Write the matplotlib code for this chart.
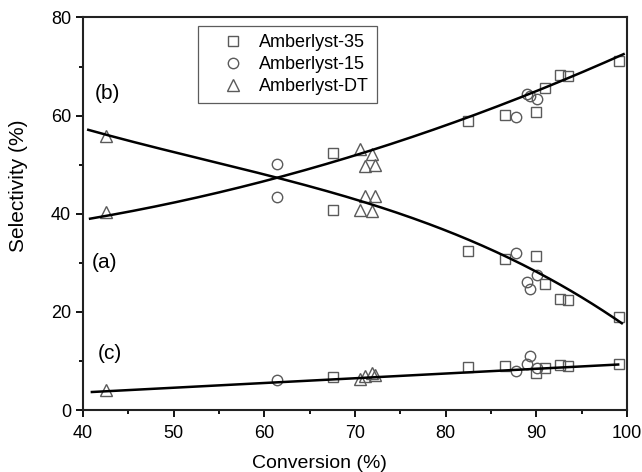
import numpy as np
import matplotlib.pyplot as plt
from matplotlib.ticker import MultipleLocator

plt.rcParams['font.family'] = ['Liberation Sans', 'DejaVu Sans']

# --- Measured selectivities: (a), (b) and (c) products per catalyst ---
a35_conv = [67.6, 82.4, 86.5, 89.9, 90.9, 92.6, 93.5, 99.1]
a35_sel_a = [40.7, 32.4, 30.8, 31.5, 25.7, 22.7, 22.5, 19.0]
a35_sel_b = [52.4, 58.9, 60.1, 60.8, 65.6, 68.3, 68.1, 71.1]
a35_sel_c = [6.8, 8.7, 8.9, 7.6, 8.5, 9.1, 8.9, 9.5]

a15_conv = [61.4, 87.7, 89.0, 89.3, 90.1]
a15_sel_a = [43.5, 32.0, 26.1, 24.7, 27.6]
a15_sel_b = [50.1, 59.8, 64.5, 64.0, 63.4]
a15_sel_c = [6.1, 8.0, 9.5, 11.0, 8.6]

adt_conv = [42.5, 70.6, 71.1, 71.9, 72.2]
adt_sel_a = [55.8, 40.8, 43.7, 40.5, 43.7]
adt_sel_b = [40.3, 53.2, 49.8, 52.2, 49.9]
adt_sel_c = [4.2, 6.4, 6.9, 7.6, 7.2]

# Trend curves
trend_a_x = [40.6, 61.4, 70.6, 81.6, 87.1, 90.05, 94.1, 99.4]
trend_a = [57.1, 47.4, 42.7, 34.9, 31.2, 28.5, 23.7, 17.7]
trend_b_x = [40.8, 61.4, 70.6, 82.5, 89.0, 99.6]
trend_b = [39.0, 47.4, 52.2, 59.6, 64.4, 72.5]
trend_c_x = [41, 99]
trend_c = [3.7, 9.3]

fig = plt.figure(figsize=(6.42, 4.72), dpi=100)
ax = fig.add_axes([0.129, 0.131, 0.848, 0.832])

mk = dict(linestyle='none', markerfacecolor='none', markeredgecolor='#5a5a5a',
          markeredgewidth=1.0, markersize=7.5)
mk_tri = {**mk, 'markersize': 8.5}

for sel in (a35_sel_a, a35_sel_b, a35_sel_c):
    ax.plot(a35_conv, sel, marker='s', **mk)
for sel in (a15_sel_a, a15_sel_b, a15_sel_c):
    ax.plot(a15_conv, sel, marker='o', **mk)
for sel in (adt_sel_a, adt_sel_b, adt_sel_c):
    ax.plot(adt_conv, sel, marker='^', **mk_tri)

# smooth polynomial through the read values of each trend
for tx, ty, deg in ((trend_a_x, trend_a, 3), (trend_b_x, trend_b, 2)):
    coef = np.polyfit(tx, ty, deg)
    xs = np.linspace(tx[0], tx[-1], 200)
    ax.plot(xs, np.polyval(coef, xs), color='black', lw=1.8)
ax.plot(trend_c_x, trend_c, color='black', lw=1.8)

# legend entries
ax.plot([], [], marker='s', label='Amberlyst-35', **mk)
ax.plot([], [], marker='o', label='Amberlyst-15', **mk)
ax.plot([], [], marker='^', label='Amberlyst-DT', **mk_tri)
handles, labels = ax.get_legend_handles_labels()
leg = ax.legend(handles, labels, loc='upper left', bbox_to_anchor=(0.212, 0.978),
                fontsize=13, frameon=True, fancybox=False, edgecolor='#333333',
                handletextpad=0.0, borderpad=0.45, labelspacing=0.28,
                handlelength=2.9, borderaxespad=0)
leg.get_frame().set_linewidth(0.9)

ax.text(41.35, 64.6, '(b)', fontsize=15, va='center', ha='left')
ax.text(41.0, 30.1, '(a)', fontsize=15, va='center', ha='left')
ax.text(41.6, 11.6, '(c)', fontsize=15, va='center', ha='left')

ax.set_xlim(40, 100)
ax.set_ylim(0, 80)
ax.xaxis.set_major_locator(MultipleLocator(10))
ax.xaxis.set_minor_locator(MultipleLocator(5))
ax.yaxis.set_major_locator(MultipleLocator(20))
ax.yaxis.set_minor_locator(MultipleLocator(10))
ax.tick_params(which='both', direction='out', top=False, right=False,
               labelsize=13, width=1.3)
ax.tick_params(which='major', length=5)
ax.tick_params(which='minor', length=3)
ax.tick_params(axis='x', pad=6)
for s in ax.spines.values():
    s.set_linewidth(1.5)
    s.set_color('#222222')

ax.set_xlabel('Conversion (%)', fontsize=14)
ax.set_ylabel('Selectivity (%)', fontsize=15)
ax.xaxis.set_label_coords(0.434, -0.115)
ax.yaxis.set_label_coords(-0.100, 0.572)

fig.savefig('out.png', dpi=100)
